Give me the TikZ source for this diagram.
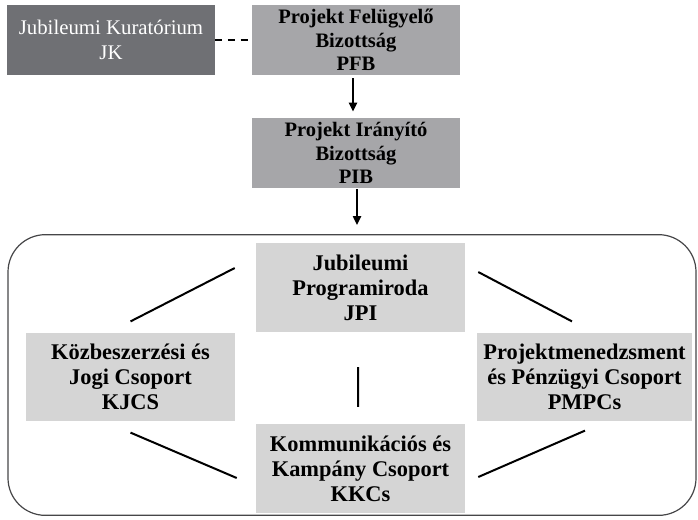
\documentclass[tikz,border=0pt]{standalone}
\usepackage{fontspec}
\setmainfont{Liberation Serif}
\usetikzlibrary{calc,arrows.meta}
\definecolor{darkbox}{RGB}{111,112,116}
\definecolor{midbox}{RGB}{166,166,169}
\definecolor{lightbox}{RGB}{213,213,213}
\definecolor{framegray}{RGB}{70,70,72}
\begin{document}
\begin{tikzpicture}[x=0.75pt, y=-0.75pt]
\tikzstyle{every node}=[inner sep=0pt, align=center];
\tikzstyle{topbox}=[fill=midbox, minimum width=156pt, minimum height=52.5pt,
  font=\bfseries\fontsize{15.4}{17.6}\selectfont];
\tikzstyle{groupbox}=[fill=lightbox, minimum width=156.75pt, minimum height=66.5pt,
  font=\bfseries\fontsize{16.8}{18.8}\selectfont];
\tikzstyle{link}=[line width=1.5pt];
\tikzstyle{down}=[line width=1.9pt, -{Triangle[length=6.8pt,width=6pt]}];
\useasboundingbox (0,0) rectangle (698,519);
\node [draw=framegray, line width=0.9pt, rounded corners=28pt, minimum width=516pt,
  minimum height=210.5pt] (grp) at (352,375) {};
\node [fill=darkbox, text=white, minimum width=156pt, minimum height=52.5pt,
  font=\fontsize{15.6}{18.6}\selectfont] (jk) at (111,40) {Jubileumi Kuratórium\\JK};
\node [topbox] (pfb) at (356,40) {Projekt Felügyelő\\Bizottság\\PFB};
\node [topbox] (pib) at (356,153) {Projekt Irányító\\Bizottság\\PIB};
\node [groupbox] (jpi) at (360.5,287.5) {Jubileumi\\Programiroda\\JPI};
\node [groupbox] (kjcs) at (130.5,377) {Közbeszerzési és\\Jogi Csoport\\KJCS};
\node [groupbox, minimum width=161.25pt] (pmpc) at (584.5,377) {Projektmenedzsment\\és Pénzügyi Csoport\\PMPCs};
\node [groupbox] (kkc) at (360.5,468.5) {Kommunikációs és\\Kampány Csoport\\KKCs};
\draw [line width=1.5pt, dash pattern=on 5.2pt off 4.3pt] (jk.east) -- (pfb.west);
\draw [down] ($(pfb.south)+(-3,3)$) -- ($(pib.north)+(-3,-6)$);
\draw [down] ($(pib.south)+(1,1)$) -- ($(grp.north)+(5,-9)$);
\draw [link] ($(kjcs.north)+(0,-11)$) -- ($(jpi.west)+(-21,-19.5)$)
($(kjcs.south)+(0,11)$) -- ($(kkc.west)+(-19,9.5)$)
($(jpi.south)+(-2.5,35)$) -- ($(kkc.north)+(-2.5,-17)$)
($(jpi.east)+(13,-15.5)$) -- ($(pmpc.north)+(-12.5,-11)$)
($(kkc.east)+(13,8.5)$) -- ($(pmpc.south)+(0.5,9)$)
;
\end{tikzpicture}
\end{document}
